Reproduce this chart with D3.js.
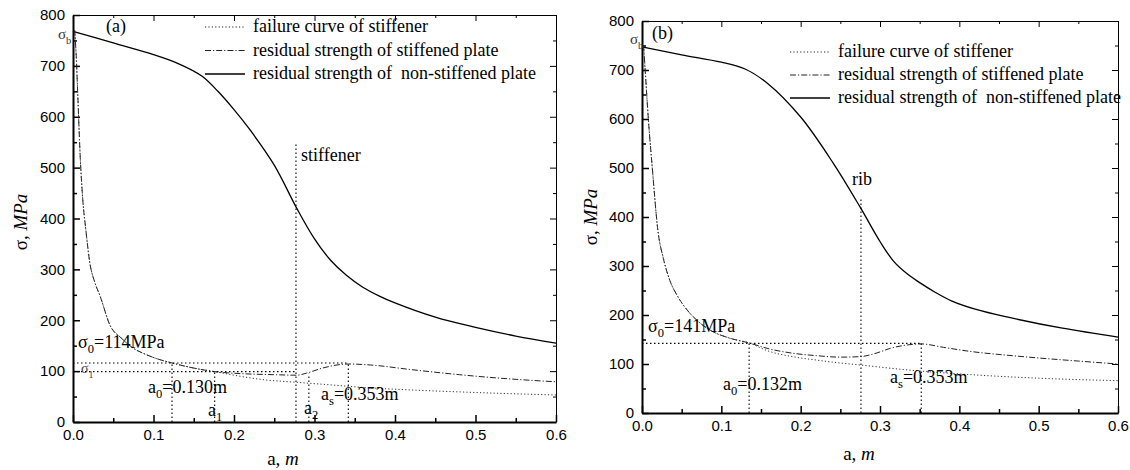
<!DOCTYPE html>
<html><head><meta charset="utf-8">
<script src="https://cdn.jsdelivr.net/npm/d3@7"></script>
<style>body{margin:0;background:#fff}svg{display:block}</style>
</head><body><svg id="c" width="1130" height="470"></svg>
<script>
// ---------- data ----------
const xTicks = [0, 0.1, 0.2, 0.3, 0.4, 0.5, 0.6];
const yTicks = [0, 100, 200, 300, 400, 500, 600, 700, 800];
const legendLabels = ["failure curve of stiffener", "residual strength of stiffened plate", "residual strength of  non-stiffened plate"];

// panel (a)
const aNonX = [0, 0.05, 0.1, 0.13, 0.16, 0.18, 0.2, 0.22, 0.25, 0.278, 0.3, 0.32, 0.34, 0.36, 0.38, 0.4, 0.45, 0.5, 0.55, 0.6];
const aNonY = [768, 745, 722, 705, 680, 650, 614, 574, 505, 420, 360, 318, 288, 265, 248, 234, 206, 186, 169, 155];
const aStfX = [0.002, 0.004, 0.006, 0.009, 0.012, 0.016, 0.021, 0.027, 0.034, 0.046, 0.06, 0.075, 0.09, 0.105, 0.123, 0.15, 0.176, 0.21, 0.25, 0.278, 0.29, 0.31, 0.342, 0.37, 0.42, 0.48, 0.54, 0.6];
const aStfY = [770, 720, 640, 520, 440, 377, 312, 275, 246, 190, 165, 145, 133, 124, 116, 106, 99, 95, 93, 92, 96, 106, 114, 112, 103, 93, 85, 79];
const aFailX = [0.002, 0.004, 0.006, 0.009, 0.012, 0.016, 0.021, 0.027, 0.034, 0.046, 0.06, 0.075, 0.09, 0.105, 0.123, 0.15, 0.176, 0.2, 0.232, 0.278, 0.32, 0.36, 0.42, 0.5, 0.6];
const aFailY = [770, 720, 640, 520, 440, 377, 312, 275, 246, 190, 165, 145, 133, 124, 116, 106, 99, 92, 84, 78, 73, 68, 63, 58, 53];
const aSigma0 = 116, aSigma1 = 99;
const aA0 = 0.123, aA1 = 0.176, aStiff = 0.277, aA2 = 0.293, aAs = 0.342;
const aStiffTop = 547, aA2Top = 95;

// panel (b)
const bNonX = [0, 0.05, 0.1, 0.13, 0.158, 0.2, 0.241, 0.275, 0.3, 0.317, 0.335, 0.351, 0.37, 0.39, 0.42, 0.46, 0.53, 0.6];
const bNonY = [747, 731, 716, 702, 673, 604, 510, 420, 350, 310, 283, 265, 246, 229, 212, 196, 173, 155];
const bStfX = [0.002, 0.004, 0.008, 0.013, 0.02, 0.027, 0.035, 0.045, 0.057, 0.07, 0.086, 0.11, 0.135, 0.16, 0.19, 0.22, 0.25, 0.275, 0.295, 0.313, 0.335, 0.352, 0.38, 0.417, 0.46, 0.502, 0.55, 0.6];
const bStfY = [750, 700, 600, 500, 373, 315, 271, 238, 210, 188, 169, 153, 143, 131, 122, 117, 114, 115, 122, 132, 139, 141, 134, 125, 118, 112, 106, 100];
const bFailX = [0.002, 0.004, 0.008, 0.013, 0.02, 0.027, 0.035, 0.045, 0.057, 0.07, 0.086, 0.11, 0.135, 0.16, 0.19, 0.22, 0.25, 0.275, 0.334, 0.417, 0.5, 0.6];
const bFailY = [750, 700, 600, 500, 373, 315, 271, 238, 210, 188, 169, 153, 143, 126, 115, 108, 102, 98, 88, 78, 71, 66];
const bSigma0 = 142;
const bA0 = 0.135, bRib = 0.276, bAs = 0.352;
const bRibTop = 440;

// ---------- drawing ----------
const svg = d3.select("#c");
const SERIF = "'Liberation Serif','Times New Roman',serif";
const SANS = "'Liberation Sans',Arial,sans-serif";
const DOT = "1.2,2.2", DASHDOT = "6,2,1.2,2";
const FS = 18;

function zip(xs, ys) { return xs.map((x, i) => [x, ys[i]]); }

function panel(cfg) {
  const x = d3.scaleLinear().domain([0, 0.6]).range([cfg.x0, cfg.x1]);
  const y = d3.scaleLinear().domain([0, 800]).range([cfg.y0, cfg.y1]);
  const g = svg.append("g");
  const minorX = d3.range(0.05, 0.6, 0.1);
  const minorY = d3.range(50, 800, 100);

  // top & right thin borders with inward ticks
  g.append("g").attr("transform", `translate(0,${cfg.y1})`)
    .call(d3.axisBottom(x).tickValues(xTicks).tickSize(6).tickSizeOuter(0).tickFormat(""))
    .call(s => s.selectAll("path,line").attr("stroke-width", 1));
  g.append("g").attr("transform", `translate(0,${cfg.y1})`)
    .call(d3.axisBottom(x).tickValues(minorX).tickSize(3).tickSizeOuter(0).tickFormat(""))
    .call(s => s.select(".domain").remove());
  g.append("g").attr("transform", `translate(${cfg.x1},0)`)
    .call(d3.axisLeft(y).tickValues(yTicks).tickSize(6).tickSizeOuter(0).tickFormat(""))
    .call(s => s.selectAll("path,line").attr("stroke-width", 1));
  g.append("g").attr("transform", `translate(${cfg.x1},0)`)
    .call(d3.axisLeft(y).tickValues(minorY).tickSize(3).tickSizeOuter(0).tickFormat(""))
    .call(s => s.select(".domain").remove());

  // bottom axis
  const bx = g.append("g").attr("transform", `translate(0,${cfg.y0})`)
    .call(d3.axisBottom(x).tickValues(xTicks).tickSize(-7).tickSizeOuter(0).tickPadding(7).tickFormat(d3.format(".1f")));
  bx.select(".domain").attr("stroke-width", 2);
  bx.selectAll(".tick line").attr("stroke-width", 1.5);
  bx.selectAll("text").attr("font-family", SANS).attr("font-size", 15).attr("fill", "#000");
  g.append("g").attr("transform", `translate(0,${cfg.y0})`)
    .call(d3.axisBottom(x).tickValues(minorX).tickSize(-4).tickSizeOuter(0).tickFormat(""))
    .call(s => { s.select(".domain").remove(); s.selectAll("line").attr("stroke-width", 1.5); });

  // left axis
  const ly = g.append("g").attr("transform", `translate(${cfg.x0},0)`)
    .call(d3.axisLeft(y).tickValues(yTicks).tickSize(-7).tickSizeOuter(0).tickPadding(8));
  ly.select(".domain").attr("stroke-width", 2);
  ly.selectAll(".tick line").attr("stroke-width", 1.5);
  ly.selectAll("text").attr("font-family", SANS).attr("font-size", 15).attr("fill", "#000");
  g.append("g").attr("transform", `translate(${cfg.x0},0)`)
    .call(d3.axisLeft(y).tickValues(minorY).tickSize(-4).tickSizeOuter(0).tickFormat(""))
    .call(s => { s.select(".domain").remove(); s.selectAll("line").attr("stroke-width", 1.5); });

  // axis titles
  const yt = g.append("text").attr("transform", `translate(${cfg.ytx},${cfg.yty}) rotate(-90)`)
    .attr("text-anchor", "middle").attr("font-family", SERIF).attr("font-size", 19);
  yt.append("tspan").text("σ, ");
  yt.append("tspan").attr("font-style", "italic").text("MPa");
  const xt = g.append("text").attr("x", cfg.xtx).attr("y", cfg.xty)
    .attr("text-anchor", "middle").attr("font-family", SERIF).attr("font-size", 19);
  xt.append("tspan").text("a, ");
  xt.append("tspan").attr("font-style", "italic").text("m");

  const smooth = d3.line().x(d => x(d[0])).y(d => y(d[1])).curve(d3.curveCatmullRom.alpha(0.5));
  const mono = d3.line().x(d => x(d[0])).y(d => y(d[1])).curve(d3.curveMonotoneX);
  const plot = g.append("g");
  plot.append("path").datum(zip(cfg.nonX, cfg.nonY)).attr("d", smooth)
    .attr("fill", "none").attr("stroke", "#000").attr("stroke-width", 1.3);
  plot.append("path").datum(zip(cfg.stfX, cfg.stfY)).attr("d", mono)
    .attr("fill", "none").attr("stroke", "#222").attr("stroke-width", 1).attr("stroke-dasharray", DASHDOT);
  plot.append("path").datum(zip(cfg.failX, cfg.failY)).attr("d", mono)
    .attr("fill", "none").attr("stroke", "#333").attr("stroke-width", 1).attr("stroke-dasharray", DOT);

  // reference lines
  const ref = (x1, y1, x2, y2) => plot.append("line")
    .attr("x1", x(x1)).attr("y1", y(y1)).attr("x2", x(x2)).attr("y2", y(y2))
    .attr("stroke", "#000").attr("stroke-width", 1.1).attr("stroke-dasharray", "1.5,2.5");
  cfg.refs.forEach(r => ref(...r));

  // legend
  const lg = g.append("g");
  legendLabels.forEach((t, i) => {
    const yy = cfg.legY + i * cfg.legDy;
    lg.append("line").attr("x1", cfg.legX).attr("x2", cfg.legX + 40).attr("y1", yy).attr("y2", yy)
      .attr("stroke", i === 2 ? "#000" : "#222").attr("stroke-width", i === 2 ? 1.3 : 1)
      .attr("stroke-dasharray", i === 0 ? DOT : i === 1 ? DASHDOT : null);
    lg.append("text").attr("x", cfg.legX + 48).attr("y", yy + 5).attr("font-family", SERIF)
      .attr("font-size", FS).style("white-space", "pre").text(t);
  });
  return { g, x, y };
}

function subText(g, px, py, main, sub, rest, size, color) {
  const s = size || FS;
  const t = g.append("text").attr("x", px).attr("y", py).attr("font-family", SERIF)
    .attr("font-size", s).attr("fill", color || "#000");
  t.append("tspan").text(main);
  t.append("tspan").attr("font-size", s * 0.7).attr("dy", 5).text(sub);
  if (rest) t.append("tspan").attr("dy", -5).text(rest);
  return t;
}

// Panel (a)
const A = panel({
  x0: 73, x1: 556, y0: 422, y1: 15,
  nonX: aNonX, nonY: aNonY, stfX: aStfX, stfY: aStfY, failX: aFailX, failY: aFailY,
  ytx: 27, yty: 222, xtx: 283, xty: 465,
  legX: 205, legY: 27, legDy: 23.5,
  refs: [
    [0, aSigma0, aAs, aSigma0],
    [0, aSigma1, aStiff, aSigma1],
    [aA0, 0, aA0, aSigma0],
    [aA1, 0, aA1, aSigma1],
    [aStiff, 0, aStiff, aStiffTop],
    [aA2, 0, aA2, aA2Top],
    [aAs, 0, aAs, aSigma0]
  ]
});
A.g.append("text").attr("x", 106).attr("y", 32).attr("font-family", SERIF).attr("font-size", FS).text("(a)");
subText(A.g, 58, 39, "σ", "b", null, 15, "#333");
subText(A.g, 78, 348, "σ", "0", "=114MPa");
subText(A.g, 81, 373, "σ", "1", null, 14, "#444");
subText(A.g, 148, 393, "a", "0", "=0.130m");
subText(A.g, 208, 416, "a", "1", null);
subText(A.g, 304, 414, "a", "2", null);
subText(A.g, 321, 400, "a", "s", "=0.353m");
A.g.append("text").attr("x", 301).attr("y", 161).attr("font-family", SERIF).attr("font-size", FS).text("stiffener");

// Panel (b)
const B = panel({
  x0: 642, x1: 1118, y0: 413, y1: 21,
  nonX: bNonX, nonY: bNonY, stfX: bStfX, stfY: bStfY, failX: bFailX, failY: bFailY,
  ytx: 597, yty: 217, xtx: 859, xty: 460,
  legX: 790, legY: 52, legDy: 23,
  refs: [
    [0, bSigma0, bAs, bSigma0],
    [bA0, 0, bA0, bSigma0],
    [bRib, 0, bRib, bRibTop],
    [bAs, 0, bAs, bSigma0]
  ]
});
B.g.append("text").attr("x", 652).attr("y", 39).attr("font-family", SERIF).attr("font-size", FS).text("(b)");
subText(B.g, 630, 44, "σ", "b", null, 15, "#333");
subText(B.g, 648, 332, "σ", "0", "=141MPa");
subText(B.g, 723, 390, "a", "0", "=0.132m");
subText(B.g, 890, 383, "a", "s", "=0.353m");
B.g.append("text").attr("x", 852).attr("y", 185).attr("font-family", SERIF).attr("font-size", FS).text("rib");
</script></body></html>
